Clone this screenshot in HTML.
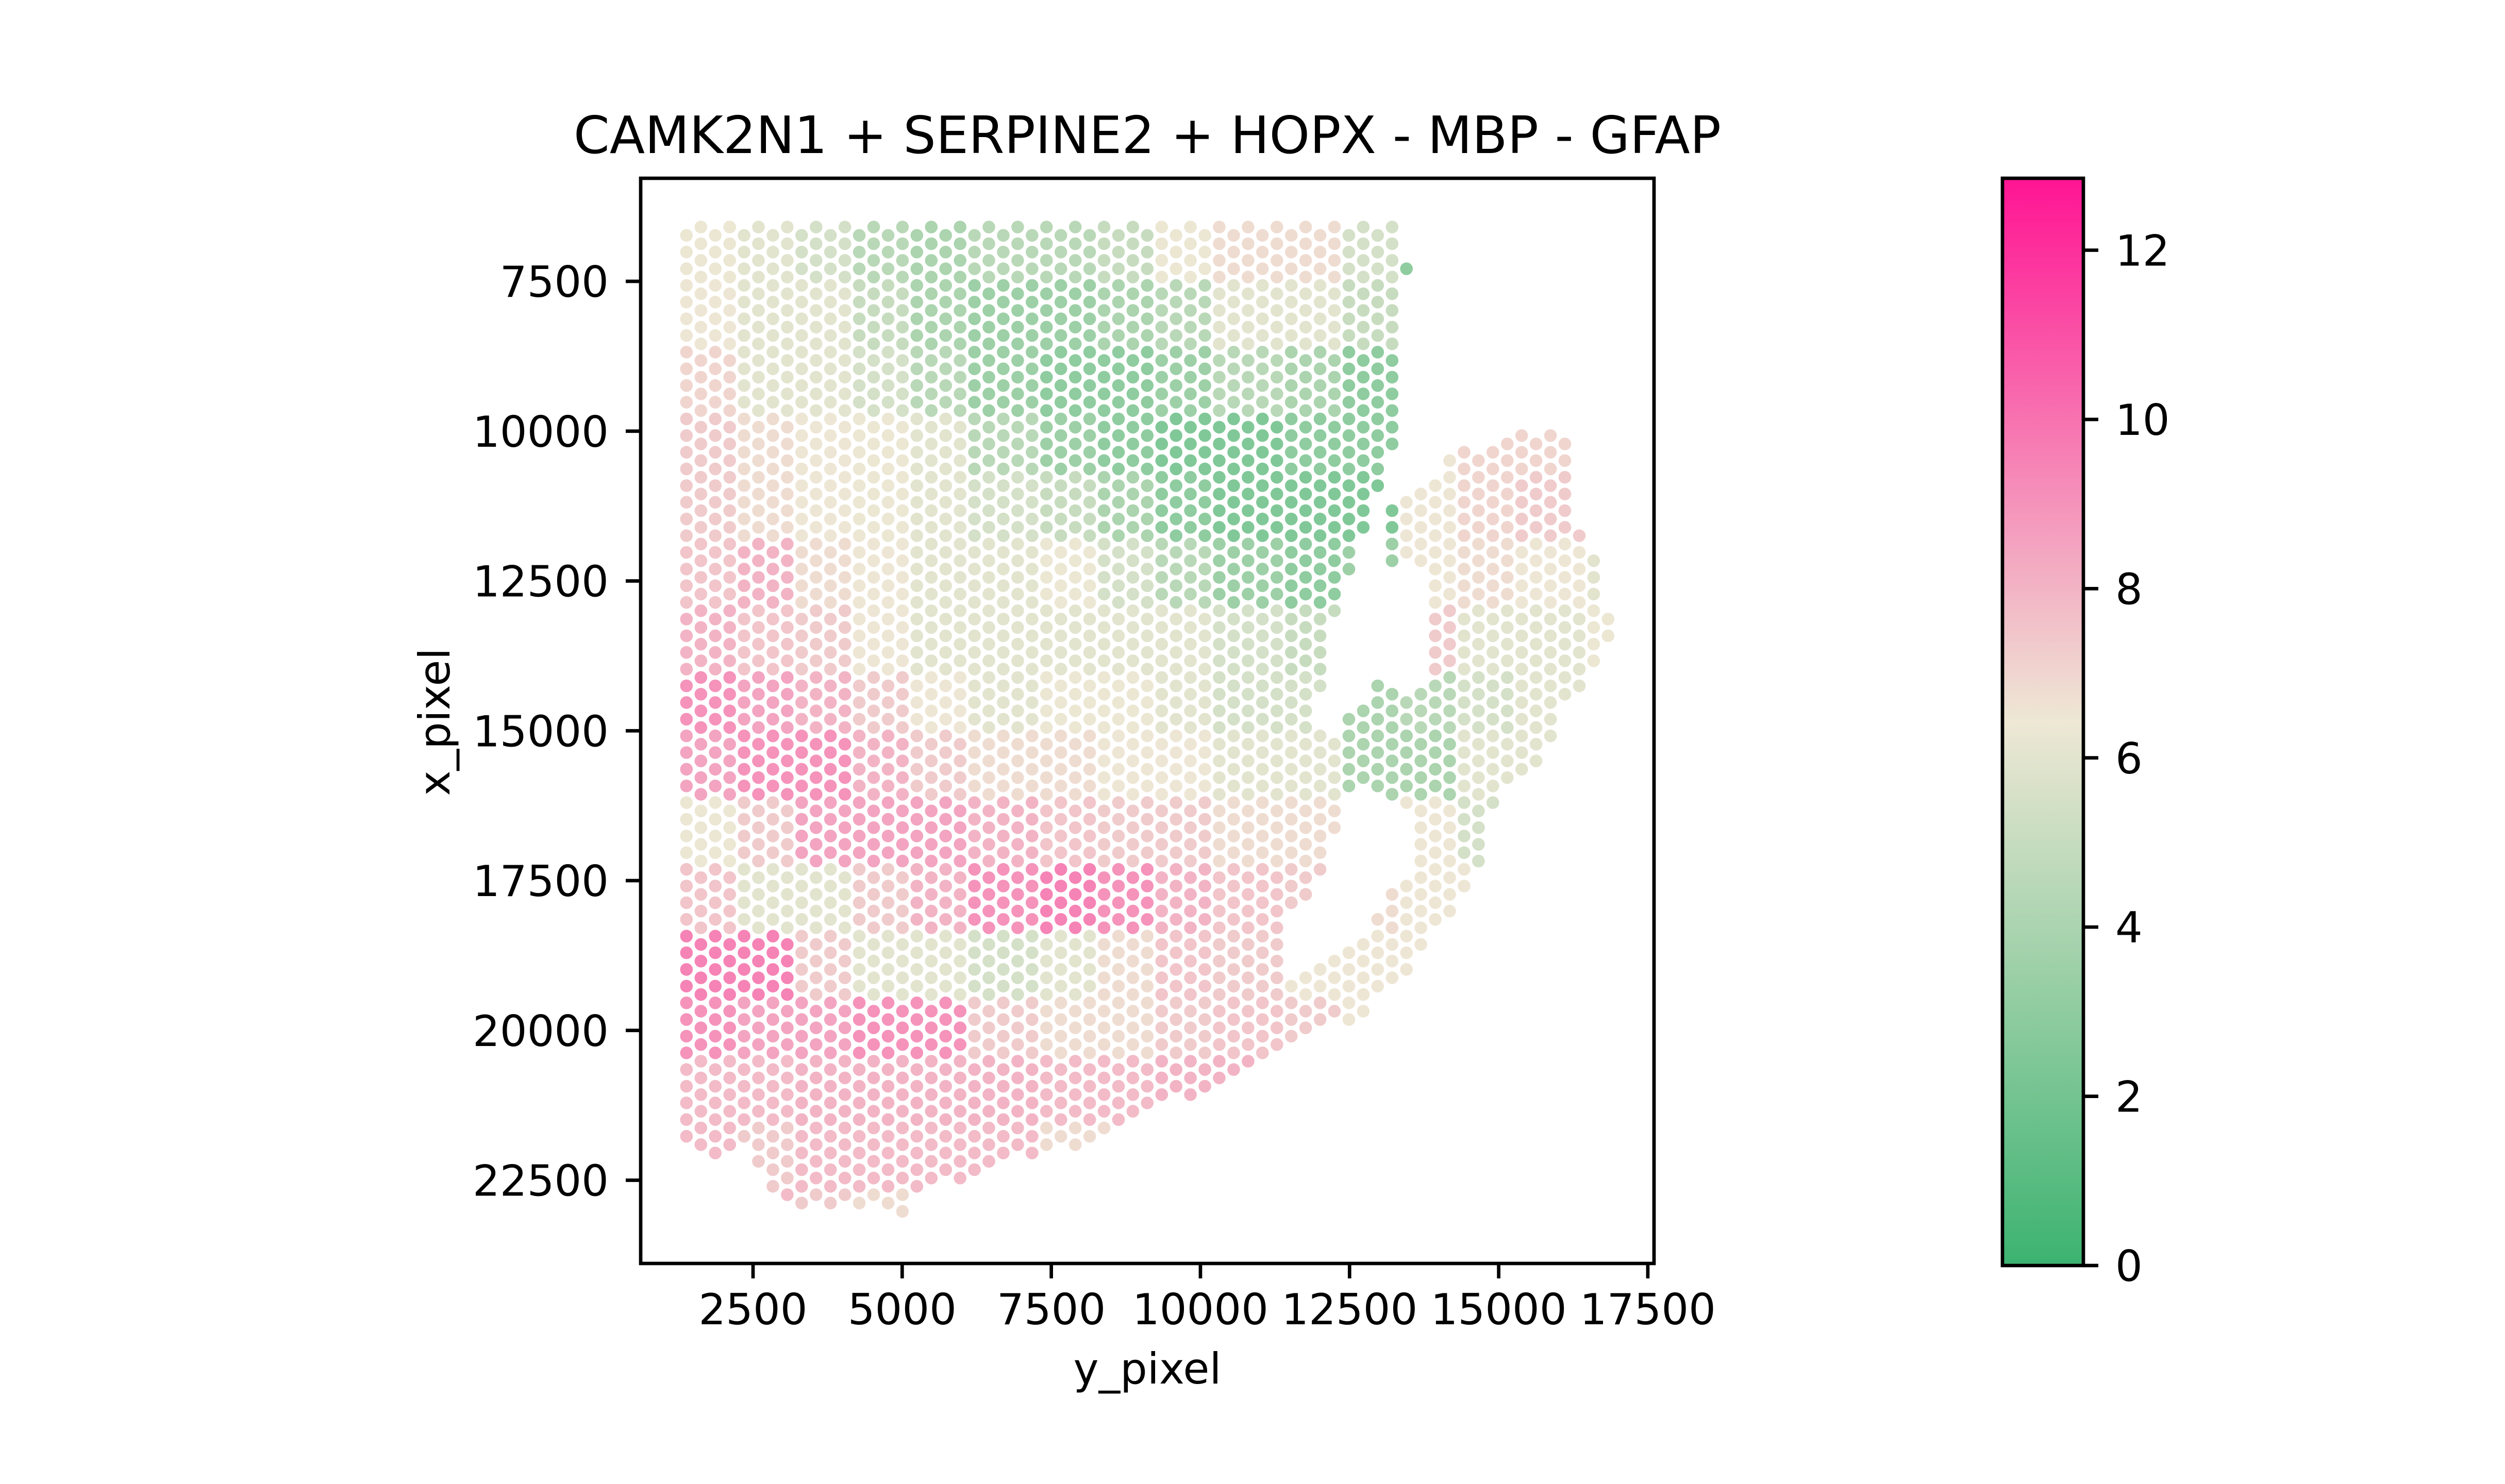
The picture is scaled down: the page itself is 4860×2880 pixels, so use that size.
<!DOCTYPE html>
<html><head><meta charset="utf-8"><title>CAMK2N1 + SERPINE2 + HOPX - MBP - GFAP</title>
<style>
html,body{margin:0;padding:0;background:#fff;}
svg{display:block;font-family:"DejaVu Sans","Liberation Sans",sans-serif;}
</style></head>
<body>
<svg id="chart" width="4860" height="2880" viewBox="0 0 4860 2880" xmlns="http://www.w3.org/2000/svg">
<defs>
<linearGradient id="cbgrad" x1="0" y1="1" x2="0" y2="0">
<stop offset="0" stop-color="#3cb371"/>
<stop offset="0.5" stop-color="#eee8d5"/>
<stop offset="1" stop-color="#ff1493"/>
</linearGradient>
</defs>
<rect width="4860" height="2880" fill="#fff"/>
<text x="2226" y="297" font-size="100" text-anchor="middle">CAMK2N1 + SERPINE2 + HOPX - MBP - GFAP</text>
<g id="spots"></g>
<rect x="1243" y="346" width="1966" height="2106" fill="none" stroke="#000" stroke-width="6.7"/>
<g id="xaxis"></g>
<g id="yaxis"></g>
<text x="2226" y="2685" font-size="83" text-anchor="middle">y_pixel</text>
<text x="0" y="0" font-size="83" text-anchor="middle" transform="translate(872,1401) rotate(-90)">x_pixel</text>
<rect x="3885" y="346" width="157" height="2110" fill="url(#cbgrad)" stroke="#000" stroke-width="6.7"/>
<g id="cbaxis"></g>
</svg>
<script>
// ---- data ----
const xTicks = [2500, 5000, 7500, 10000, 12500, 15000, 17500];
const yTicks = [7500, 10000, 12500, 15000, 17500, 20000, 22500];
const cbTicks = [0, 2, 4, 6, 8, 10, 12];
const cbMax = 12.85;
// expression on a coarse grid (rows top->bottom, cols left->right)
const gridRow0  = [6.3,6,5.5,4.5,4,4.5,4.5,5,6.3,6.8,6.8,5.5,3];
const gridRow1  = [6.5,6,6,5,4,3.5,3.5,4,4.5,6,6,5,3];
const gridRow2  = [7,6,6,5.5,4.5,3.5,3,3,3.5,4.5,4,3];
const gridRow3  = [7.3,6.8,6.5,6.3,6,4.5,3.5,3,2.5,2.5,3,3,6.5,7,7,6.5];
const gridRow4  = [7.3,6.8,6.5,6.3,6,5.5,5,4,3,2.5,2.5,2.5,6.5,7,7.3,6.5];
const gridRow5  = [7.5,8,6.8,6.5,6,6,6.3,5.5,4.5,3.5,3,3.5,6.5,6.8,6.5,6];
const gridRow6  = [8,7.5,7.3,6.5,6,6,6,6,6,5.5,5,5,7.3,6,6,6.3];
const gridRow7  = [9,8.5,8,7.3,6.5,6,6.3,6.3,6,5.5,5.5,4,4.5,5.5,6,6];
const gridRow8  = [8.5,9,9,8,7.3,6.8,6.8,6.5,6.5,6,6,4,4,6,6];
const gridRow9  = [6.3,7.3,8.5,8.5,8.5,8,7.5,7.3,7.3,6.8,6.8,6.5,6.5,5.5];
const gridRow10 = [7.5,6,6,7.3,8,9,9.5,9,8,7.5,7.3,6.8,6.5];
const gridRow11 = [9.5,9.5,7.3,6,6,5.5,6,6.8,7.5,7.3,6.5,6.5,6.5];
const gridRow12 = [9,8.5,8.5,9,9,7.3,6.8,6.8,7.3,7.5,7.3,6.5];
const gridRow13 = [7.8,7.8,8,8,8,8,7.8,7.8,8,8];
const gridRow14 = [7.8,7.3,7.8,7.8,7.8,7.8,6.8];
const gridRow15 = [6.8,7.8,7.3,6.8];
const grid = [gridRow0,gridRow1,gridRow2,gridRow3,gridRow4,gridRow5,gridRow6,gridRow7,gridRow8,gridRow9,gridRow10,gridRow11,gridRow12,gridRow13,gridRow14,gridRow15];

// ---- axis functions ----
const xScale = v => 1461 + (v - 2500) * 0.11573;
const yScale = v => 546 + (v - 7500) * 0.1163;
const cbScale = v => 2456 - v * (2110 / cbMax);

// tissue outline (screen px) and holes
const tissueOutline = [[1316,425],[2716,425],[2716,500],[2745,505],[2745,535],[2716,545],[2716,840],[2690,890],[2660,985],[2632,1080],[2605,1155],[2578,1210],[2578,1270],[2553,1380],[2525,1430],[2600,1410],[2640,1370],[2668,1310],[2740,1345],[2772,1330],[2772,1100],[2720,1098],[2688,1098],[2688,1000],[2735,965],[2770,925],[2800,895],[2830,868],[2895,860],[3005,828],[3022,838],[3050,880],[3050,990],[3078,1030],[3105,1140],[3137,1229],[3105,1290],[3050,1350],[3022,1400],[2995,1480],[2935,1515],[2905,1530],[2885,1645],[2855,1722],[2827,1772],[2797,1790],[2770,1840],[2712,1900],[2690,1905],[2660,1955],[2632,1972],[2600,1990],[2545,1992],[2520,2005],[2490,2022],[2462,2038],[2435,2088],[2400,2088],[2350,2105],[2320,2120],[2290,2135],[2240,2135],[2212,2150],[2185,2168],[2160,2185],[2130,2200],[2100,2218],[2068,2232],[2015,2232],[1990,2248],[1930,2250],[1905,2265],[1875,2280],[1848,2295],[1790,2295],[1765,2345],[1740,2365],[1710,2348],[1540,2348],[1515,2330],[1485,2315],[1458,2240],[1430,2220],[1400,2235],[1375,2250],[1345,2235],[1318,2235]];
const tissueHole = [[2495,1790],[2540,1745],[2568,1695],[2595,1612],[2612,1545],[2650,1520],[2690,1575],[2740,1565],[2745,1670],[2710,1720],[2680,1765],[2650,1812],[2600,1850],[2555,1880],[2520,1905],[2490,1880],[2478,1830]];

function inPoly(x, y, poly) {
  let c = false;
  for (let i = 0, j = poly.length - 1; i < poly.length; j = i++) {
    const xi = poly[i][0], yi = poly[i][1], xj = poly[j][0], yj = poly[j][1];
    if (((yi > y) !== (yj > y)) && (x < (xj - xi) * (y - yi) / (yj - yi) + xi)) c = !c;
  }
  return c;
}
function lerp(a, b, t) { return a + (b - a) * t; }
const c0 = [60,179,113], c1 = [238,232,213], c2 = [255,20,147];
function cmap(v) {
  let t = Math.max(0, Math.min(1, v / cbMax));
  let a, b, u;
  if (t < 0.5) { a = c0; b = c1; u = t / 0.5; } else { a = c1; b = c2; u = (t - 0.5) / 0.5; }
  return 'rgb(' + Math.round(lerp(a[0],b[0],u)) + ',' + Math.round(lerp(a[1],b[1],u)) + ',' + Math.round(lerp(a[2],b[2],u)) + ')';
}
function gridValue(px, py) {
  const r = Math.floor((py - 420) / 126), c = Math.floor((px - 1300) / 118);
  const row = grid[Math.max(0, Math.min(grid.length - 1, r))];
  const v = row[Math.max(0, Math.min(row.length - 1, c))];
  return v === undefined ? 6.5 : v;
}

const NS = 'http://www.w3.org/2000/svg';
const spotsG = document.getElementById('spots');
// Visium hex lattice (data units)
const latX0 = 1384, latDX = 241.4, latY0 = 6733, latDY = 278.4;
for (let i = 0; i < 68; i++) {
  for (let j = -2; j < 64; j++) {
    const X = latX0 + i * latDX;
    const Y = latY0 + j * latDY - (i % 2 ? latDY / 2 : 0);
    const px = xScale(X), py = yScale(Y);
    if (!inPoly(px, py, tissueOutline) || inPoly(px, py, tissueHole)) continue;
    const c = document.createElementNS(NS, 'circle');
    c.setAttribute('cx', px.toFixed(1));
    c.setAttribute('cy', py.toFixed(1));
    c.setAttribute('r', '12.3');
    c.setAttribute('fill', cmap(gridValue(px, py)));
    
    
    spotsG.appendChild(c);
  }
}

// x axis
const xg = document.getElementById('xaxis');
xTicks.forEach(t => {
  const x = xScale(t);
  const l = document.createElementNS(NS, 'line');
  l.setAttribute('x1', x); l.setAttribute('x2', x); l.setAttribute('y1', 2452); l.setAttribute('y2', 2481);
  l.setAttribute('stroke', '#000'); l.setAttribute('stroke-width', '6.7');
  
  
  xg.appendChild(l);
  const tx = document.createElementNS(NS, 'text');
  tx.setAttribute('x', x); tx.setAttribute('y', 2570);
  tx.setAttribute('font-size', '83'); tx.setAttribute('text-anchor', 'middle');
  tx.textContent = t;
  
  
  xg.appendChild(tx);
});
// y axis
const yg = document.getElementById('yaxis');
yTicks.forEach(t => {
  const y = yScale(t);
  const l = document.createElementNS(NS, 'line');
  l.setAttribute('x1', 1214); l.setAttribute('x2', 1243); l.setAttribute('y1', y); l.setAttribute('y2', y);
  l.setAttribute('stroke', '#000'); l.setAttribute('stroke-width', '6.7');
  
  
  yg.appendChild(l);
  const tx = document.createElementNS(NS, 'text');
  tx.setAttribute('x', 1181); tx.setAttribute('y', y + 30);
  tx.setAttribute('font-size', '83'); tx.setAttribute('text-anchor', 'end');
  tx.textContent = t;
  
  
  yg.appendChild(tx);
});
// colorbar axis
const cg = document.getElementById('cbaxis');
cbTicks.forEach(t => {
  const y = cbScale(t);
  const l = document.createElementNS(NS, 'line');
  l.setAttribute('x1', 4042); l.setAttribute('x2', 4071); l.setAttribute('y1', y); l.setAttribute('y2', y);
  l.setAttribute('stroke', '#000'); l.setAttribute('stroke-width', '6.7');
  
  
  cg.appendChild(l);
  const tx = document.createElementNS(NS, 'text');
  tx.setAttribute('x', 4104); tx.setAttribute('y', y + 30);
  tx.setAttribute('font-size', '83'); tx.setAttribute('text-anchor', 'start');
  tx.textContent = t;
  
  
  cg.appendChild(tx);
});
</script>
</body></html>
